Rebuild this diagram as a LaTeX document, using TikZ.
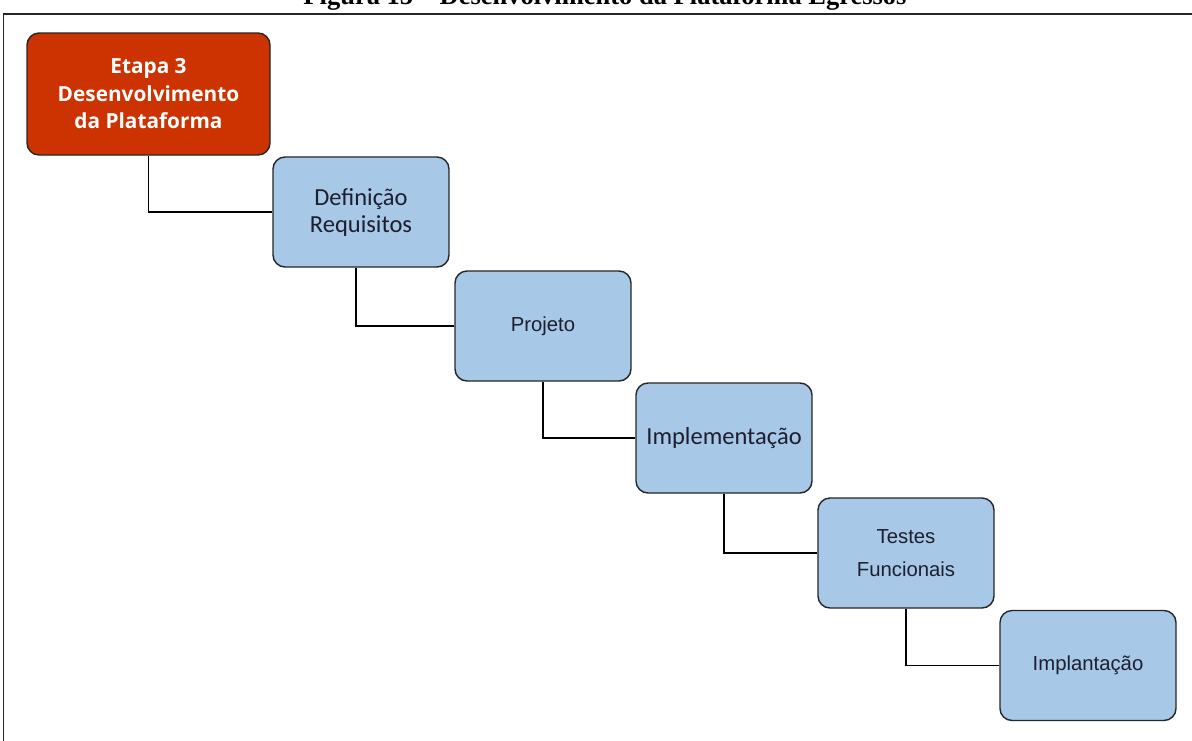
\documentclass[tikz,border=0pt]{standalone}
\usepackage{fontspec}
\setmainfont{Liberation Serif}
\newfontfamily\calibrifont{Carlito}
\newfontfamily\arialfont{Liberation Sans}
\newfontfamily\headfont{Open Sans}
\definecolor{stagered}{HTML}{CC3300}
\definecolor{stepblue}{HTML}{A7C8E6}
\definecolor{labelink}{HTML}{1E1E2E}
\begin{document}
\begin{tikzpicture}[x=1pt,y=-1pt,
  box/.style={draw=black!85, line width=1.4pt, rounded corners=12pt,
    minimum width=176pt, minimum height=110pt, inner sep=0pt,
    align=center, text=labelink},
  stepbox/.style={box, fill=stepblue},
  stagebox/.style={box, fill=stagered, minimum width=243pt,
    minimum height=122pt, text=white},
  calibri/.style={font=\calibrifont\fontsize{24.5}{27}\selectfont},
  arial/.style={font=\arialfont\fontsize{20.3}{33}\selectfont},
  link/.style={draw=black, line width=1.3pt}]
\useasboundingbox (0,0) rectangle (1192,740);
\begin{scope}
\clip (0,0) rectangle (1192,740);
% caption line above the frame
\node[font=\bfseries\fontsize{26.5}{26.5}\selectfont, anchor=base] (caption) at (605,4)
  {Figura 15 -- Desenvolvimento da Plataforma Egressos};
% outer frame
\draw[line width=1.5pt, black!85] (3.5,14) rectangle (1210,760);
\end{scope}

\node[stagebox, font=\headfont\bfseries\fontsize{20.8}{27.5}\selectfont] (etapa) at (148.5,94)
  {Etapa 3\\Desenvolvimento\\da Plataforma};
\node[stepbox, calibri] (req) at (361,212) {Definição\\Requisitos};
\node[stepbox, arial] (proj) at (543,326) {Projeto};
\node[stepbox, calibri] (impl) at (724,438) {Implementação};
\node[stepbox, arial] (test) at (906,553) {Testes\\Funcionais};
\node[stepbox, arial] (impa) at (1088,665.5) {Implantação};

\draw[link] (etapa.south) |- (req.west);
\draw[link] ([xshift=-5pt]req.south) |- (proj.west);
\draw[link] (proj.south) |- (impl.west);
\draw[link] (impl.south) |- (test.west);
\draw[link] (test.south) |- (impa.west);
\end{tikzpicture}
\end{document}
